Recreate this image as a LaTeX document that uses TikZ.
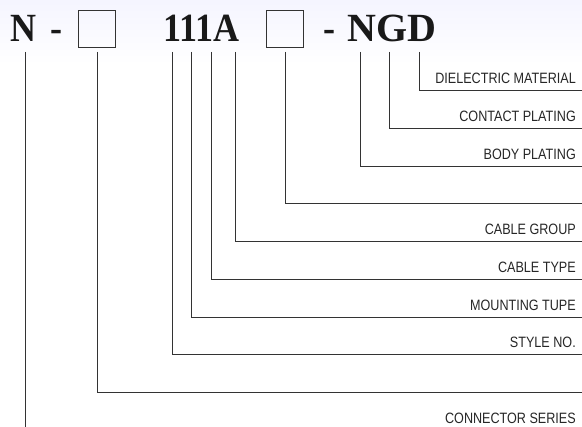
\documentclass[tikz,border=0pt]{standalone}
\usepackage{fontspec}
\setmainfont{Liberation Serif}
\newfontfamily\codefont[FakeStretch=0.9]{Liberation Serif}
\newfontfamily\widecodefont{Liberation Serif}
\newfontfamily\labelfont[FakeStretch=0.84]{Liberation Sans}
\usetikzlibrary{positioning}
\colorlet{background}{white}
\colorlet{penColor}{black!80}
\colorlet{inkColor}{black!90}
\tikzset{
  code/.style={inkColor,font=\codefont\bfseries\fontsize{40}{40}\selectfont,inner sep=0pt,anchor=base west},
  slot/.style={draw=penColor,line width=1.2pt,minimum size=37pt,inner sep=0pt,anchor=north west},
  lead/.style={penColor,line width=0.9pt},
  lbl/.style={black!85,font=\labelfont\fontsize{15}{15}\selectfont,inner sep=0pt,anchor=base east},
}

\begin{document}
\begin{tikzpicture}[x=1pt,y=-1pt]
		\useasboundingbox (0,0) rectangle (582,427);
		\shade[top color=blue!4!background, bottom color=background] (0,0) rectangle (582,65);% faint sky at the top
		
		% the part number
		\node[code] (ser) at (10,42) {N};
		\node[code] (dashA) at (50,42) {-};
		\node[slot] (boxA) at (78,10) {};
		\node[code] (num) at (163,42) {111A};
		\node[slot] (boxB) at (266,10) {};
		\node[code] (dashB) at (323,42) {-};
		\node[code,font=\widecodefont\bfseries\fontsize{40}{40}\selectfont] (mat) at (347,42) {NGD};
		
		% tops of the leads
		\coordinate (tSer) at (25,52);
		\coordinate (tBoxA) at (97,52);
		\coordinate (tStyle) at (172,52);
		\coordinate (tMount) at (191,52);
		\coordinate (tType) at (211,52);
		\coordinate (tGroup) at (235,52);
		\coordinate (tBoxB) at (285,52);
		\coordinate (tBody) at (360,52);
		\coordinate (tCont) at (389,52);
		\coordinate (tDiel) at (419,52);
		
		% right ends of the leads
		\coordinate (eDiel) at (582,90);
		\coordinate (eCont) at (582,128);
		\coordinate (eBody) at (582,166);
		\coordinate (eBoxB) at (582,203);
		\coordinate (eGroup) at (582,241);
		\coordinate (eType) at (582,279);
		\coordinate (eMount) at (582,317);
		\coordinate (eStyle) at (582,354);
		\coordinate (eBoxA) at (582,392);
		\coordinate (eSer) at (25,427);
		
		\draw[lead] (tDiel) |- (eDiel);
		\draw[lead] (tCont) |- (eCont);
		\draw[lead] (tBody) |- (eBody);
		\draw[lead] (tBoxB) |- (eBoxB);
		\draw[lead] (tGroup) |- (eGroup);
		\draw[lead] (tType) |- (eType);
		\draw[lead] (tMount) |- (eMount);
		\draw[lead] (tStyle) |- (eStyle);
		\draw[lead] (tBoxA) |- (eBoxA);
		\draw[lead] (tSer) -- (eSer);% runs off the bottom
		
		% labels sit just above their lead
		\node[lbl] (labDiel) at ([xshift=-6pt,yshift=6.5pt]eDiel) {DIELECTRIC MATERIAL};
		\node[lbl] (labCont) at ([xshift=-6pt,yshift=6.5pt]eCont) {CONTACT PLATING};
		\node[lbl] (labBody) at ([xshift=-6pt,yshift=6.5pt]eBody) {BODY PLATING};
		\node[lbl] (labGroup) at ([xshift=-6pt,yshift=6.5pt]eGroup) {CABLE GROUP};
		\node[lbl] (labType) at ([xshift=-6pt,yshift=6.5pt]eType) {CABLE TYPE};
		\node[lbl] (labMount) at ([xshift=-6pt,yshift=6.5pt]eMount) {MOUNTING TUPE};
		\node[lbl] (labStyle) at ([xshift=-6pt,yshift=6.5pt]eStyle) {STYLE NO.};
		\node[lbl] (labSer) at (576,424) {CONNECTOR SERIES};
\end{tikzpicture}
\end{document}
